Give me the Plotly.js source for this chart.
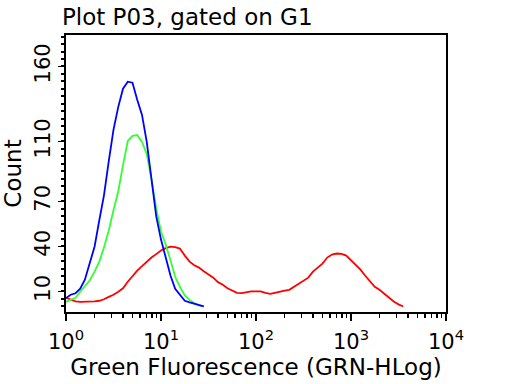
<!DOCTYPE html>
<html>
<head>
<meta charset="utf-8">
<script src="https://cdn.plot.ly/plotly-3.0.1.min.js"></script>
<style>html,body{margin:0;padding:0;background:#fff;}#chart{width:512px;height:384px;}</style>
</head>
<body>
<div id="chart"></div>
<script>
// Fluorescence channel values (log-spaced)
const fluor = [1, 1.12, 1.26, 1.41, 1.58, 1.78, 2.0, 2.24, 2.51, 2.82,
  3.16, 3.55, 3.98, 4.47, 5.01, 5.62, 6.31, 7.08, 7.94, 8.91,
  10, 11.2, 12.6, 14.1, 15.8, 17.8, 20.0, 22.4, 25.1, 28.2,
  31.6, 35.5, 39.8, 44.7, 50.1, 56.2, 63.1, 70.8, 79.4, 89.1,
  100, 112, 126, 141, 158, 178, 200, 224, 251, 282,
  316, 355, 398, 447, 501, 562, 631, 708, 794, 891,
  1000, 1122, 1259, 1413, 1585, 1778, 1995, 2239, 2512, 2818,
  3162, 3548];

const blueCount = [5.6, 7.8, 8.8, 11.8, 17.8, 28.6, 40, 57.4, 74.1, 96.9,
  117.7, 133.1, 145.2, 149.9, 149.2, 137.8, 127.7, 109.7, 84.2, 60,
  44.6, 32.6, 20.5, 11.8, 7.8, 3.8, 2.7, 1.7, 1.1, 0];

const greenCount = [3.1, 4.4, 5.8, 9.8, 13.8, 17.5, 23.2, 29.9, 39.3, 50.7,
  64.1, 76.8, 94.2, 110.3, 113.7, 114.3, 109.7, 101.6, 84.9, 65.4,
  50, 41.3, 30.6, 19.8, 13.1, 7.4, 4.4, 2.1, 0.7, 0];

const redCount = [5.8, 4.4, 3.4, 3.1, 3.1, 3.1, 3.4, 3.8, 4.8, 6.4,
  7.8, 9.8, 12.1, 16.5, 20.5, 23.9, 26.9, 29.9, 32.6, 34.9,
  37.3, 38.9, 39.9, 39.6, 38.6, 33.9, 29.9, 27.5, 25.9, 23.5,
  21.2, 19.2, 16.2, 14.5, 12.1, 10.5, 9.1, 8.9, 9.5, 10,
  10, 10, 9.1, 8.4, 9.1, 10, 10.5, 11.1, 13.1, 15.1,
  16.8, 19.2, 23.2, 25.9, 28.6, 32.6, 34.6, 35.3, 35.1, 33.9,
  30.6, 27.9, 24.5, 20.5, 16.5, 13.1, 11.1, 8.4, 5.8, 3.3,
  1.4, 0];

const xTickVals = [1, 10, 100, 1000, 10000];
const xTickText = ['10<sup>0</sup>', '10<sup>1</sup>', '10<sup>2</sup>', '10<sup>3</sup>', '10<sup>4</sup>'];
const yTickVals = [10, 40, 70, 110, 160];
const yTickText = ['10', '40', '70', '110', '160'];

const minorX = [];
for (let d = 0; d < 4; d++) for (let m = 2; m <= 9; m++) minorX.push(m * Math.pow(10, d));

function trace(y, color) {
  return {
    x: fluor.slice(0, y.length), y: y, type: 'scatter', mode: 'lines',
    line: {color: color, width: 1.8, shape: 'linear'}, hoverinfo: 'skip'
  };
}

const FONT = 'DejaVu Sans, Verdana, sans-serif';

const data = [trace(redCount, '#ff0000'), trace(greenCount, '#33ff33'), trace(blueCount, '#0000ff')];

const layout = {
  width: 512, height: 384,
  margin: {l: 66, r: 66, t: 35, b: 72},
  paper_bgcolor: '#ffffff', plot_bgcolor: '#ffffff',
  showlegend: false,
  font: {family: FONT, color: '#000000'},
  title: {text: 'Plot P03, gated on G1', x: 0.121, xanchor: 'left', y: 0.955, yanchor: 'middle',
          font: {family: FONT, size: 23, color: '#000000'}},
  xaxis: {
    type: 'log', range: [0, 4],
    tickmode: 'array', tickvals: xTickVals, ticktext: xTickText,
    ticks: 'outside', ticklen: 7, tickwidth: 1.5, tickcolor: '#000',
    ticklabelstandoff: 3,
    minor: {tickmode: 'array', tickvals: minorX, ticks: 'outside', ticklen: 4, tickwidth: 1.5, tickcolor: '#000'},
    showline: true, linecolor: '#000', linewidth: 2, mirror: true,
    showgrid: false, zeroline: false,
    tickfont: {family: FONT, size: 21, color: '#000'},
    title: {text: 'Green Fluorescence (GRN-HLog)', font: {family: FONT, size: 23, color: '#000'}, standoff: 6}
  },
  yaxis: {
    range: [-3.7, 181],
    tickmode: 'array', tickvals: yTickVals, ticktext: yTickText,
    tickangle: -90,
    ticks: 'outside', ticklen: 6, tickwidth: 1.5, tickcolor: '#000',
    minor: {dtick: 5, tick0: 0, ticks: 'outside', ticklen: 3, tickwidth: 2, tickcolor: '#000'},
    showline: true, linecolor: '#000', linewidth: 2, mirror: true,
    showgrid: false, zeroline: false,
    tickfont: {family: FONT, size: 21, color: '#000'},
    title: {text: 'Count', font: {family: FONT, size: 23, color: '#000'}, standoff: 4}
  }
};

Plotly.newPlot('chart', data, layout, {staticPlot: true, displayModeBar: false});
</script>
</body>
</html>
